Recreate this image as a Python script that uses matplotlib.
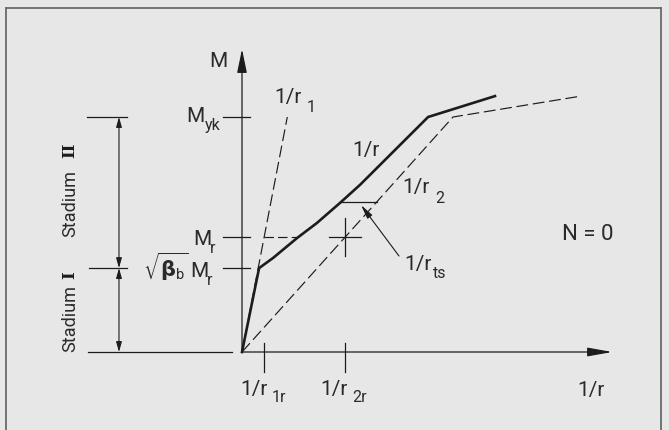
import numpy as np
import matplotlib
matplotlib.use("Agg")
import matplotlib.pyplot as plt

plt.rcParams['font.family'] = ['Roboto', 'DejaVu Sans']
plt.rcParams['mathtext.fontset'] = 'dejavusans'

# moment (M_yk = 1) and curvature (1/r2 at yield = 1)
M_yk = 1.0
M_r = 0.489
M_crack = 0.357          # sqrt(beta_b) * M_r
k_1r = 0.105             # 1/r_1r
k_2r = 0.488             # 1/r_2r
M_ts = 0.638             # level of the 1/r_ts bar

# state I line 1/r1 (through origin)
r1_k = [0.0, k_1r / M_r * M_yk]
r1_M = [0.0, M_yk]
# state II line 1/r2 (pure cracked section)
r2_k = [0.0, 1.0, 1.607]
r2_M = [0.0, M_yk, 1.089]
# real curve 1/r with tension stiffening
cur_k = [0.0, 0.081, 0.147, 0.261, 0.355, 0.464, 0.559, 0.882, 1.199]
cur_M = [0.0, M_crack, 0.400, 0.485, 0.549, 0.634, 0.711, M_yk, 1.089]

x_end = 1.754   # end of curvature axis
y_end = 1.289   # end of moment axis

ink = '#1c1c1c'
bg = '#e7e7e7'
dash = (0, (10, 4))

fig = plt.figure(figsize=(6.69, 4.30), dpi=100, facecolor=bg)
ax = fig.add_axes([0, 0, 1, 1])
ax.set_facecolor(bg)
ax.set_xlim(-242 / 211, 427 / 211)
ax.set_ylim(-78 / 235, 352 / 235)
ax.axis('off')

# frame
fc = '#6a6a6a'
fig.add_artist(plt.Line2D([6.5 / 669, 6.5 / 669], [0, 1 - 8 / 430], color=fc, lw=1.3))
fig.add_artist(plt.Line2D([6.5 / 669, 660.5 / 669], [1 - 8 / 430, 1 - 8 / 430], color=fc, lw=1.3))
fig.add_artist(plt.Line2D([660.5 / 669, 660.5 / 669], [0, 1 - 8 / 430], color=fc, lw=1.3))

# axes with arrows
ax.annotate('', xy=(0, y_end), xytext=(0, 0),
            arrowprops=dict(arrowstyle='-|>,head_length=1.45,head_width=0.3',
                            lw=0.9, color=ink, shrinkA=0, shrinkB=0))
ax.annotate('', xy=(x_end, 0), xytext=(0, 0),
            arrowprops=dict(arrowstyle='-|>,head_length=1.5,head_width=0.27',
                            lw=0.9, color=ink, shrinkA=0, shrinkB=0))

# curves
ax.plot(r1_k, r1_M, color=ink, lw=0.85, ls=dash)
ax.plot(r2_k, r2_M, color=ink, lw=0.85, ls=dash)
ax.plot(cur_k, cur_M, color=ink, lw=1.9, solid_joinstyle='miter')

# M_r dashed level between 1/r1 and 1/r
ax.plot([np.interp(M_r, r1_M, r1_k), np.interp(M_r, cur_M, cur_k)], [M_r, M_r],
        color=ink, lw=0.85, ls=(0, (8, 3.5)))

# tension stiffening bar 1/r_ts
ax.plot([np.interp(M_ts, cur_M, cur_k), np.interp(M_ts, r2_M, r2_k)], [M_ts, M_ts],
        color=ink, lw=0.9)

# cross at (1/r_2r, M_r)
ax.plot([k_2r - 0.076, k_2r + 0.076], [M_r, M_r], color=ink, lw=0.9)
ax.plot([k_2r, k_2r], [M_r - 0.08, M_r + 0.08], color=ink, lw=0.9)

# ticks on the axes
for m in [M_yk, M_r, M_crack]:
    ax.plot([-0.09, 0.038], [m, m], color=ink, lw=0.9)
for k in [k_1r, k_2r]:
    ax.plot([k, k], [0.038, -0.085], color=ink, lw=0.9)

# dimension line for the stages
xd = -0.583
ax.plot([-0.735, -0.545], [M_yk, M_yk], color=ink, lw=0.9)
ax.plot([-0.725, -0.545], [M_crack, M_crack], color=ink, lw=0.9)
ax.plot([-0.730, -0.047], [0, 0], color=ink, lw=0.9)
for lo, hi in [(M_crack, M_yk), (0, M_crack)]:
    ax.annotate('', xy=(xd, hi), xytext=(xd, lo),
                arrowprops=dict(arrowstyle='<|-|>,head_length=0.6,head_width=0.17',
                                lw=0.8, color=ink, shrinkA=0, shrinkB=0))

fs, sfs = 15, 11.5
tk = dict(color='#2a2a2a', fontweight='normal')


def sublabel(x, y, main, sub, dx=4, dy=-8):
    # main text right aligned at x, subscript placed after it
    ax.text(x, y, main, fontsize=fs, ha='right', va='baseline', **tk)
    ax.annotate(sub, xy=(x, y), xytext=(dx * 0.72, dy * 0.72), textcoords='offset points',
                fontsize=sfs, ha='left', va='baseline', **tk)


ax.text(-0.1114, 1.2128, 'M', fontsize=fs, ha='center', va='baseline', **tk)
sublabel(-0.1754, 0.9787, 'M', 'yk', dx=0, dy=-8)
sublabel(-0.1469, 0.4553, 'M', 'r', dx=-1, dy=-8)
ax.text(-0.2512, 0.3191, r'$\sqrt{\mathbf{\beta}_{\mathregular{b}}}$', fontsize=fs,
        ha='right', va='baseline', color='#2a2a2a')
sublabel(-0.1611, 0.3191, 'M', 'r', dx=-1, dy=-8)

sublabel(0.2844, 1.0596, '1/r', '1', dx=5, dy=-9)
ax.text(0.5213, 0.8340, '1/r', fontsize=fs, ha='left', va='baseline', **tk)
sublabel(0.8910, 0.6766, '1/r', '2', dx=5, dy=-10)
sublabel(0.9005, 0.3489, '1/r', 'ts', dx=1, dy=-8)
ax.annotate('', xy=(0.5640, 0.6255), xytext=(0.7441, 0.4085),
            arrowprops=dict(arrowstyle='-|>,head_length=0.85,head_width=0.18',
                            lw=0.8, color=ink, shrinkA=0, shrinkB=0))
ax.text(1.5166, 0.4766, 'N = 0', fontsize=fs + 1, ha='left', va='baseline', **tk)

sublabel(0.1232, -0.1830, '1/r', '1r', dx=4, dy=-7)
sublabel(0.5024, -0.1830, '1/r', '2r', dx=4, dy=-7)
ax.text(1.5877, -0.1872, '1/r', fontsize=fs, ha='left', va='baseline', **tk)

# stage labels, rotated
xs = -0.815
ax.text(xs, 0.0, 'Stadium', fontsize=13, rotation=90, rotation_mode='anchor',
        ha='left', va='center', **tk)
ax.text(xs, 0.328, 'I', fontsize=12, rotation=90, ha='center', va='center',
        color=ink, fontweight='bold', family='DejaVu Serif')
ax.text(xs, 0.489, 'Stadium', fontsize=13, rotation=90, rotation_mode='anchor',
        ha='left', va='center', **tk)
ax.text(xs, 0.86, 'II', fontsize=12, rotation=90, ha='center', va='center',
        color=ink, fontweight='bold', family='DejaVu Serif')

fig.savefig('out.png', dpi=100, facecolor=bg)
